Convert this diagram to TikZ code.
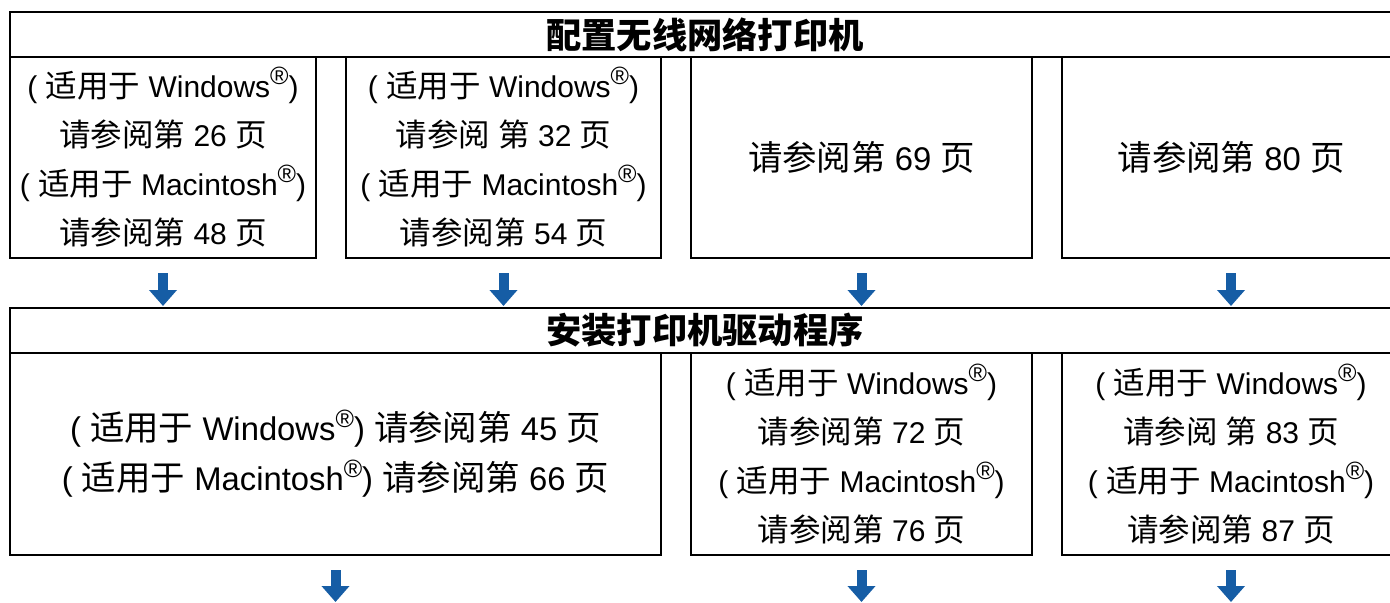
\documentclass[tikz,border=0pt]{standalone}
\usepackage{fontspec}
\setmainfont{Liberation Sans}
\newfontfamily\cjk[Scale=1.05]{Noto Sans CJK SC}
\usetikzlibrary{arrows.meta}

\definecolor{arrowblue}{RGB}{22,93,165}
\newcommand\zh[1]{{\cjk #1}}
\newcommand\reg{\raisebox{6.5pt}{\fontsize{12.5}{12}\selectfont\textregistered}}
\newcommand\forwin{( \zh{适用于} Windows\reg)}
\newcommand\formac{( \zh{适用于} Macintosh\reg)}
\newcommand\seepage[1]{\zh{请参阅第} #1 \zh{页}}

\tikzset{
  frame/.style={draw,line width=0.75pt,inner sep=0pt,outer sep=0pt,anchor=north west,
    align=center,font=\fontsize{15}{24.5}\selectfont},
  bigframe/.style={frame,font=\fontsize{16.4}{25}\selectfont},
  banner/.style={frame,minimum width=695pt,minimum height=22.5pt,
    font=\fontsize{16.8}{20}\selectfont\cjk\bfseries},
  flowarrow/.style={arrowblue,line width=5pt,-{Triangle[width=13.5pt,length=8pt]},
    shorten <=7.5pt,shorten >=1pt}
}

\begin{document}
\begin{tikzpicture}[x=0.5pt,y=-0.5pt]
  % Boundary
  \path[use as bounding box] (0,0) rectangle (1390,602);
  % Wireless setup
  \node[banner] (setup) at (10,12) {配置无线网络打印机};
  \node[frame,minimum width=153pt,minimum height=100.5pt] (setupA) at (10,57)
    {\forwin\\\seepage{26}\\\formac\\\seepage{48}};
  \node[frame,minimum width=157.5pt,minimum height=100.5pt] (setupB) at (346,57)
    {\forwin\\\zh{请参阅} \zh{第} 32 \zh{页}\\\formac\\\seepage{54}};
  \node[bigframe,minimum width=170.5pt,minimum height=100.5pt] (setupC) at (691,57)
    {\seepage{69}};
  \node[bigframe,minimum width=169pt,minimum height=100.5pt] (setupD) at (1062,57)
    {\seepage{80}};
  % Driver install
  \node[banner] (driver) at (10,308) {安装打印机驱动程序};
  \node[bigframe,minimum width=325.5pt,minimum height=101pt] (driverA) at (10,353)
    {\forwin{} \seepage{45}\\\formac{} \seepage{66}};
  \node[frame,minimum width=170.5pt,minimum height=101pt] (driverB) at (691,353)
    {\forwin\\\seepage{72}\\\formac\\\seepage{76}};
  \node[frame,minimum width=169pt,minimum height=101pt] (driverC) at (1062,353)
    {\forwin\\\zh{请参阅} \zh{第} 83 \zh{页}\\\formac\\\seepage{87}};
  \coordinate (bottom) at (0,604);
  % Arrows
  \foreach \from in {setupA,setupB,setupC,setupD}
    \draw[flowarrow] (\from.south) -- (\from.south |- driver.north);
  \foreach \from in {driverA,driverB,driverC}
    \draw[flowarrow] (\from.south) -- (\from.south |- bottom);
\end{tikzpicture}
\end{document}
